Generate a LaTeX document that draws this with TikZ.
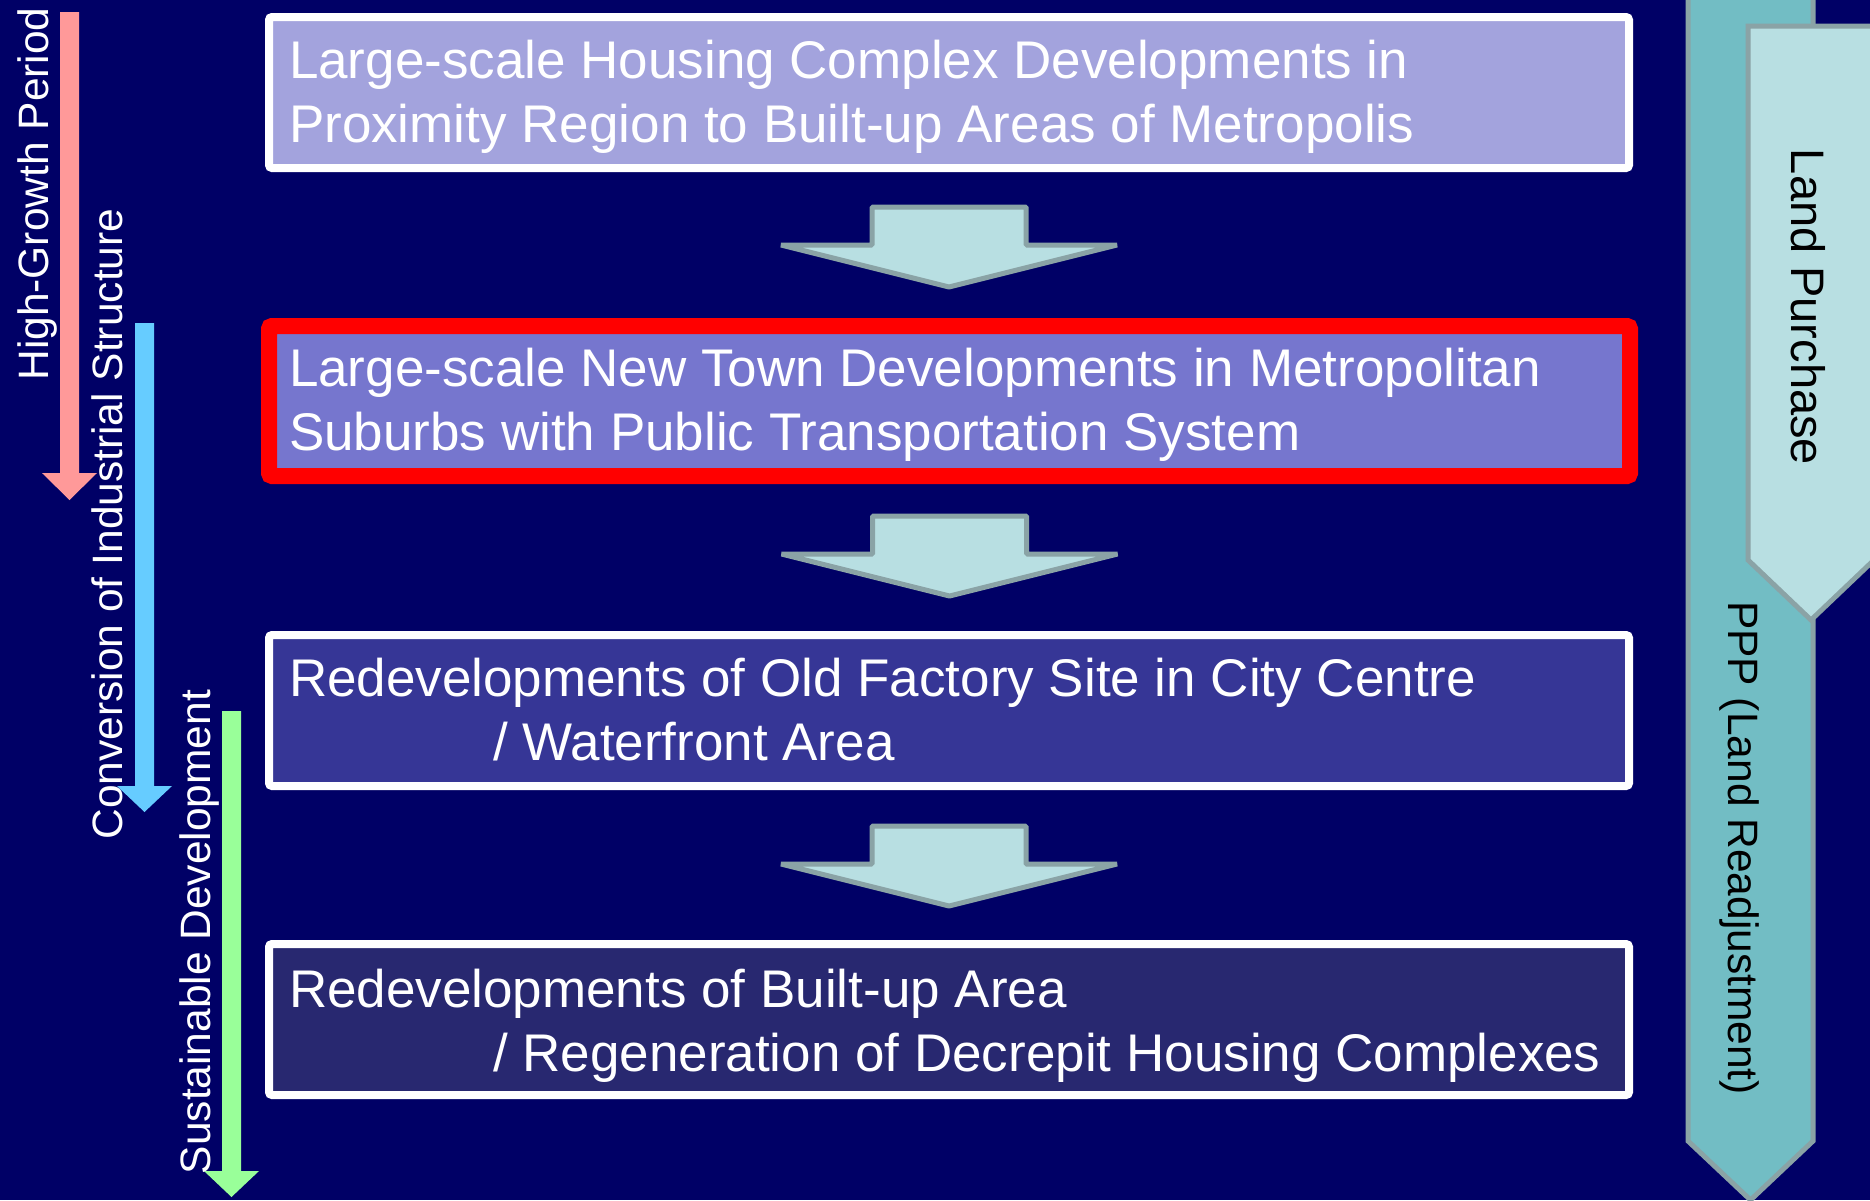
\documentclass[tikz,border=0pt]{standalone}
\usepackage{fontspec}
\setmainfont{Liberation Sans}
\definecolor{bgnavy}{RGB}{0,0,102}
\definecolor{fillA}{RGB}{163,163,221}
\definecolor{fillB}{RGB}{118,118,206}
\definecolor{fillC}{RGB}{54,54,150}
\definecolor{fillD}{RGB}{40,40,112}
\definecolor{lteal}{RGB}{184,223,226}
\definecolor{dteal}{RGB}{114,189,196}
\definecolor{arrgray}{RGB}{138,163,166}
\definecolor{pinkarr}{RGB}{255,153,153}
\definecolor{bluearr}{RGB}{102,204,255}
\definecolor{greenarr}{RGB}{153,255,153}
\tikzset{
  stagebox/.style={draw=white, line width=8pt, rounded corners=3pt,
    minimum width=1360pt, minimum height=151pt, inner sep=0pt, outer sep=0pt,
    anchor=north west},
  boxtext/.style={text=white, font=\fontsize{53}{64}\selectfont, align=left,
    inner sep=0pt, outer sep=0pt, anchor=north west},
  sidetext/.style={text=white, font=\fontsize{42.5}{50}\selectfont,
    inner sep=0pt, outer sep=0pt, anchor=base, rotate=90},
  righttext/.style={text=black, inner sep=0pt, outer sep=0pt, anchor=base, rotate=-90},
  blockarr/.style={fill=lteal, draw=arrgray, line width=5pt, line join=bevel},
  downarrow/.pic={\draw[blockarr] (-77,39) -- (77,39) -- (77,77) -- (168,77)
    -- (0,119) -- (-168,77) -- (-77,77) -- cycle;}
}
\begin{document}
\begin{tikzpicture}[x=1pt,y=-1pt]
\useasboundingbox (0,0) rectangle (1870,1200);
\fill[bgnavy] (0,0) rectangle (1870,1200);

% stage boxes
\node[stagebox, fill=fillA] (b1) at (269,17) {};
\node[stagebox, fill=fillB, draw=red, line width=16pt, minimum width=1361pt, minimum height=150pt] (b2) at (269,326) {};
\node[stagebox, fill=fillC] (b3) at (269,635) {};
\node[stagebox, fill=fillD] (b4) at (269,944) {};

\node[boxtext] (t1) at (289,33.2) {\strut Large-scale Housing Complex Developments in\\Proximity Region to Built-up Areas of Metropolis};
\node[boxtext] (t2) at (289,341.2) {\strut Large-scale New Town Developments in Metropolitan\\Suburbs with Public Transportation System};
\node[boxtext] (t3) at (289,651.2) {\strut Redevelopments of Old Factory Site in City Centre\\\hspace*{204pt}/ Waterfront Area};
\node[boxtext] (t4) at (289,962.2) {\strut Redevelopments of Built-up Area\\\hspace*{204pt}/ Regeneration of Decrepit Housing Complexes};

% block arrows between boxes
\pic at (b1.south) {downarrow};
\pic at ([yshift=-1pt]b2.south) {downarrow};
\pic at ([yshift=-1pt]b3.south) {downarrow};

% left period arrows
\fill[pinkarr] (60,12) -- (79,12) -- (79,473) -- (97,473) -- (69.5,500) -- (42,473) -- (60,473) -- cycle;
\fill[bluearr] (135,323) -- (154,323) -- (154,786) -- (172,786) -- (144.5,812) -- (117,786) -- (135,786) -- cycle;
\fill[greenarr] (222,711) -- (241,711) -- (241,1171) -- (259,1171) -- (231.5,1197) -- (204,1171) -- (222,1171) -- cycle;

\node[sidetext] (l1) at (48,194) {High-Growth Period};
\node[sidetext] (l2) at (122,524) {Conversion of Industrial Structure};
\node[sidetext] (l3) at (210,932) {Sustainable Development};

% right method arrows
\begin{scope}
\clip (0,0) rectangle (1870,1200);
\draw[fill=dteal, draw=arrgray, line width=5pt] (1688,-20) -- (1813,-20) -- (1813,1141) -- (1750.5,1200) -- (1688,1141) -- cycle;
\draw[fill=lteal, draw=arrgray, line width=5pt] (1748,26) -- (1874,26) -- (1874,560) -- (1811,620) -- (1748,560) -- cycle;
\end{scope}
\node[righttext, font=\fontsize{47}{56}\selectfont] (r1) at (1791,307) {Land Purchase};
\node[righttext, font=\fontsize{42.5}{50}\selectfont] (r2) at (1728,848) {PPP (Land Readjustment)};
\end{tikzpicture}
\end{document}
